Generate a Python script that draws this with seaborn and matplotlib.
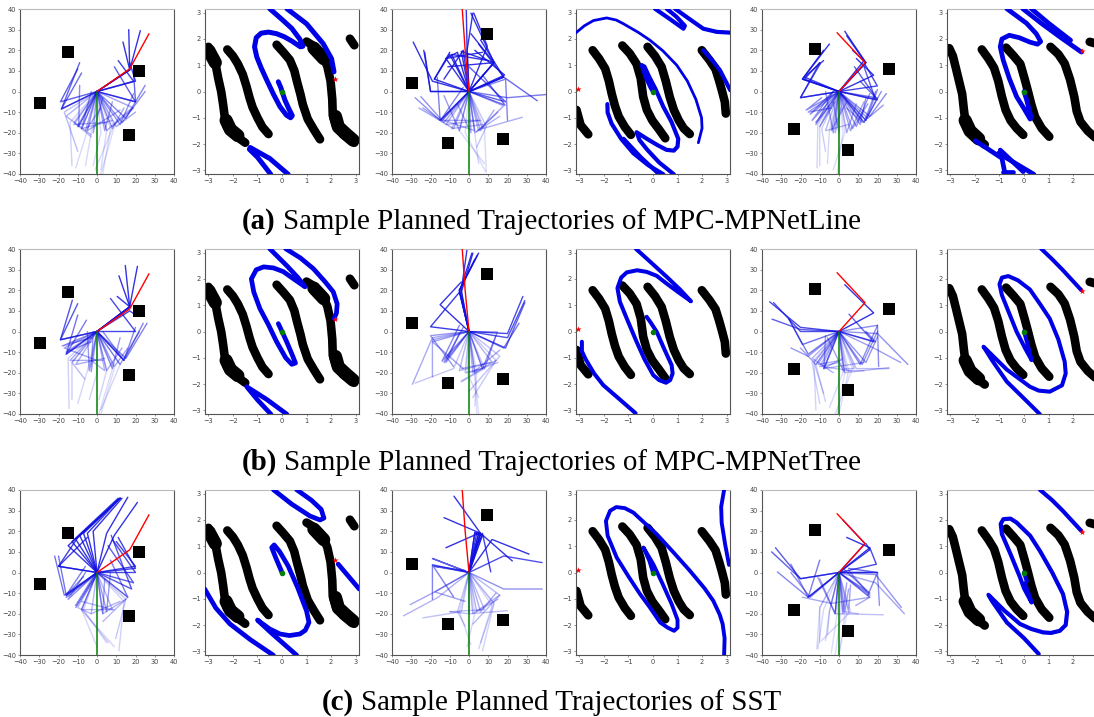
"""Sample planned trajectories: workspace trees and configuration space plots."""

import matplotlib
matplotlib.use("Agg")
import matplotlib.pyplot as plt
import seaborn as sns

W, H = 1094, 717

# -- obstacle centres for the three environments
squares_a = [(-29.6, -5.5), (-15, 19.2), (21.8, 10), (16.8, -21.3)]
squares_b = [(-29.4, 4), (-10.7, -25), (9.5, 28), (17.8, -23)]
squares_c = [(-12.6, 20.6), (25.8, 10.8), (-23.4, -18), (4.8, -28.3)]

# -- goal arm, elbow then tip
goal_a = [(0, 0), (17, 11), (27, 28)]
goal_b = [(0, 0), (-2, 20), (-3.5, 40)]
goal_c = [(0, 0), (13.5, 14), (-1, 28.5)]

# -- goal state in configuration space
star_a = (2.15, 0.48)
star_b = (-3.05, 0.08)
star_c = (2.38, 1.53)

# -- tree arms: elbow x, elbow y, tip x, tip y
tree_a1 = [
    (17, 10.5, 16.5, 30), (17, 10.5, 22.5, 29.5), (17, 10.5, 13.5, 24), (19, 5, 11, 15), (20, 5, 17, 14),
    (-18.5, -8.5, -9, 14), (-19, -5, -10, 11), (-18.5, -8.5, -8, 9), (-9.5, -17, -9, 3), (-8, -18, -3, 0),
    (-10, -17, 0, 0), (20, -5, 9, 12), (20, -5, 19, 9), (19, -8, 8, -17), (-17, -10, -10, -29),
    (-14, -15, -13, -36), (-5, -19, -11, -37), (-3, -20, -6, -36), (2, -20, -2, -36), (5, -19, 2, -38),
    (7, -18, 3, -40), (8, -18, -1, -38), (9, -17, 2, -40), (-12, -15, -3, -22), (-16, -12, -3, -21),
    (-12, -16, 5, -15), (-8, -18, 8, -14), (-5, -19, 12, -9), (5, -19, 18, -8), (10, -17, 20, -10),
    (13, -15, 25, 0), (15, -13, 25, 3), (12, -16, 19, -1), (8, -18, 14, -8), (-2, -20, 3, -3),
    (4, -19, 8, -5), (-6, -19, 2, -8),
]
tree_a3 = [
    (-20, 0, -23, 19), (-20, 0, -23.5, 20), (-19, 5, -29, 24), (-18, 6, -10, 19), (13, 14, 1, 38),
    (9.5, 22, 2.5, 38), (13, 14, 1, 28), (18, 7, 5, 23), (18, 7, 6, 25), (18.5, 8, 3, 20), (19, -5, 0, 12),
    (18.7, -6.6, 7, 8), (18, -7, 4, -19.5), (-15, -14, -16.5, 7), (-14.5, -13.5, -3, 2), (-10, 18, -18, 6),
    (-6, 19, -12, 16), (-3, 20, -13, 6), (-12, 16, 7, 19), (-9, 18, 10, 15), (-4, 19.5, 13, 14),
    (13, 14, -11, 12), (-1, 20, -1.4, 39.4), (-1, 20, 2, 38), (20, -3, 39.8, -1.5), (18, 7, 35.5, -4.5),
    (19, 6, 20, -14), (7, -18, 27.7, -12.5), (-14, -14, -25, -2.5), (-15, -14, -28, -3), (-13, -15, -24, -8),
    (-8, -18, -26, -8), (3, -19, -13, -14), (-14, -14, 5, -14), (-12, -16, 6, -14), (3, -20, 16, -12),
    (5, -19, 15, -10), (-5, -19, 8, -35), (3, -20, 5, -35), (-2, -20, 8.7, -39), (8, -18, 9, -39),
    (9, -17, 4, -27), (-9, -18, 7, -16), (6, -19, 13, -9), (1, -20, -6, -6), (-5, -19, -13, -2),
]
tree_a5 = [
    (14, 14, 3, 29.2), (13, 15, 4, 27), (14, 14, 7, 20), (-19, 6, -5, 23), (-19, 6, -8, 20), (-18, 6, -10, 14),
    (-20, -3, -10, 14), (-20, -3, -9.7, 13.5), (-18, 7, -8, 15), (19.9, 2.7, 13.3, 13.5), (19, -4, 13, 12),
    (20, -4, 8, 12), (18, 7.9, 9, 16), (19, -3, 11, 5), (-14, -14, -4, -1), (-12, -16, -3, 0), (-15, -11, -3, 0),
    (-3, -20, -7, 0), (0, -20, -3, -5), (6, -19, 13, -5), (9, -17, 16, -1), (14, -14, 20, -3), (13, -15, 19, 0),
    (14, -14, 20, 1), (-11, -16, -11.4, -37), (-9, -18, -7, -29), (-10, -17, -10, -36), (-5, -19, -6, -35),
    (3, -20, -3, -38), (2, -20, -1, -40), (15, -13, 23, -6.6), (16, -12, 24.6, -1), (13, -15, 22, 0),
    (-7, -19, 5, -16), (-16, -10, -4, -8), (-17, -9, -9, -3), (-10, -17, -2, -5), (-12, -15, -5, -7),
    (4, -20, 9, -6), (7, -18, 15, -6), (-4, -19, 4, -5), (-2, -20, 1, -8), (12, -15, 4, -8), (11, -16, 14, -3),
]
tree_b1 = [
    (17, 12, 14.7, 32), (17, 12, 21, 31.6), (17, 12, 11.4, 27), (17, 12, 10.5, 17), (17, 10, 20, 8),
    (20, 0, 7, 16), (-19, -4, -12.8, 15.2), (-19, -4, -10, 13.5), (-16, -11, -10, 8), (-16, -11, -5.5, 5.5),
    (-4, -19, -5, 0), (-3, -19.5, -2, 0), (14, -14, 3, 0), (14, -14, 20, 2), (8, -18, 12, -3), (9, -17, 16, -8),
    (14, -14, 24, 4), (15, -13, 26, 4), (12, -16, 22, 0), (-15, -13, -14.5, -37.3), (-13, -15, -13, -33),
    (-13, -15, -6.4, -23), (-5, -19, -10, -35), (0, -20, -4, -33), (5, -19, 1, -33), (8, -18, 1, -40),
    (9, -18, 2, -40), (12, -16, 2, -38), (-17, -8, 0, -14), (-14, -14, 3, -14), (-11, -16, 4, -13),
    (-16, -10, -3, -5), (-18, -7, -3, -3), (5, -19, 13, -8), (4, -19, -3, -14),
]
tree_b3 = [
    (-5, 20, 4.3, 37), (-5, 20, 3, 35), (-5, 20, 5, 38), (-4, 20, -1, 40), (-4, 19, 2, 38), (-5, 19, 1.5, 38),
    (-20, 2.3, -5, 19), (-15, 13, -4, 24), (-14, -14.4, -5, 3), (-13, -15, -3, 2), (-12, -15, -5, -1),
    (20, -1, 28, 17), (20, -3, 29, 15), (19, -8, 29, 14), (18, -8, 26, 4), (14.7, -0.2, 8, -18), (7, -18, 14, -2),
    (-19, -3, -29.4, -25.6), (-19, -4, -19, -22), (-19, -5, -3, -18), (-20, -2, -8, -17), (-8, -18, -28, -25),
    (-5, -19, 11, -15), (0, -20, 15, -15), (2, -20, 16, -9), (3, -20, 14, -14), (-2, -20, 7, -18),
    (3, -20, 4, -40), (3, -20, 5, -40), (-1, -20, 5, -32), (8, -18, -4, -24.4), (7, -18, -4, -24),
    (16, -12, 0, -29), (14, -14, 2, -32), (4, -20, 3, -36), (12, -15, -4, -18),
]
tree_b5 = [
    (18, 9, 3, 22.7), (18, -5, 5.2, 8.4), (19, -5, 14, 0), (-20, 2, -36, 14.4), (-20, 0, -34, 14), (-20, 1, -34.8, 6),
    (-19, -6.3, -26, 6), (-16, -12, -25, -8), (-16, -11, -26, 6), (-7.8, -18, -7, -2), (-7.8, -18, 13, -15),
    (2.6, -19.5, -6, -3), (12, -16, 20, 0), (14, -15, 20, -2.6), (11, -16, 20, 3), (20, 3, 20.6, -17),
    (20, -1, 35.8, -16), (18, -8, 32, -15), (9, -18, 26, -18), (3, -20, 26, -17.5), (4, -19, 13, -19),
    (-12, -16, -20, -8), (-13, -15, -12, -38), (-14, -15, -10, -35), (-12, -16, -7, -34), (-13, -15, -8, -30),
    (2, -20, -5, -37), (3, -20, -1, -40), (5, -19, 0, -40), (7, -18, -2, -40), (-14, -13, -3, -20),
    (-10, -17, 0, -15), (-11, -16, 1, -14), (-8, -18, 2, -13), (8, -18, 3, -18), (-9, -17, 6, -19),
]
tree_c1 = [
    (-11, 16, 12, 36), (-9, 18, 12, 36), (-7, 19, 12, 36), (-5, 19, 12, 36), (-2, 20, 13, 36), (5, 19, 16, 36.5),
    (9, 18, 21, 34), (-15, 13, 12, 36), (-13, 15, 11, 36), (-20, 3, -10, 17), (-20, 3, -5, 17), (18, -8, 7.4, 18),
    (19, -5, 5.7, 13), (20, 2, 11, 17), (20, 3, 10, 15), (20, 0, 8, 16), (16, -12, 7, 6), (-15, -13, -6, 0),
    (-16, -11, -6, 3), (-11, -16, 0, 1), (-11, -17, 1, 0), (5, -19, 7, 0), (3, -20, 4, -3), (-17, -11, -22, 8),
    (-16, -11, -20, 8), (-16, -11, -7, -2), (-16, -12, -1, -1), (-8, -18, 9, -18), (-10, -17, -3, -20),
    (16, -12, 3, -23.8), (15, -13, 9.7, -32), (14, -14, 11.4, -38), (-7, -18, 5, -34), (-8, -18, 9, -36),
    (-8, -18, 6, -34), (-8, -18, 0, -36), (8, -18, -8, -14), (3, -20, 15, -13), (-3, -20, 12, -14),
]
tree_c3 = [
    (6, 19, -7.8, 37), (6, 19, -13, 26.6), (5, 19, -12, 12), (7, 19, 11.3, 0.3), (12, 16, 31.2, 8.9),
    (6, 19, 22.5, 5.6), (18, 8, 38, 4.8), (18, -8, 38, -8), (4, 19, 5, 19), (3, 19.5, 6, 19), (5, 19, 7, 18),
    (3, 19, 6, 18), (7, 18, 3, 12), (-19, 3.7, -19, -13), (-19, 3.7, -8, -11.8), (-19, 6.8, -3, 1),
    (-18, 3, -2, 1), (-17.8, -9.4, -30.6, -15.6), (-17.8, -9.4, -2, -14), (-16, -12, -34, -21),
    (-4, -19, -24, -22), (0, -20, 20, -18.5), (0, -20, -10, -19), (8, -18, -10, -19), (16, -11, 2, -25),
    (12, -16, 6, -34), (13, -15, 7, -38), (13, -15, 5, -37), (-5, -19, 1, -35), (3, -20, -1, -36),
    (-6, -19, -2, -26), (2, -20, 16, -11), (4, -19, 15, -13), (6, -19, 14, -10),
]
tree_c5 = [
    (13.5, 14, 2, 25.5), (16, 12, 4, 17), (16, 11, 14, 14), (19.4, 4, 16, 12), (20, 0, 5, 2), (-20, -3, -35, 10),
    (-20, -3, -33, 12), (-16, -12, -32, 0.3), (-16, -12, -25, 4), (-15, -12, -25, 0), (-16, -12, -10, 6),
    (-2, -20, -11, -2.4), (-2, -20, -10, -3), (16, -10, 2, 2), (16, -11, 5, 1), (20, 0, 15, -11),
    (19, -1, 32.4, -17), (20, 0, 21, -16), (19, -5, 34, -20), (16, -12, 8.7, -16), (16, -12, -4, -15),
    (-4, -15, -19, -12), (-2, -20, 23, -20.5), (2, -19, 10, -20), (-10, -17, -11.5, -37), (-10, -17, -10, -34),
    (-8, -18, -11, -37), (-5, -19, -7, -33), (-1, -20, -4, -39), (1, -20, -2, -40), (3, -20, 0, -40),
    (4, -20, 0, -40), (-5, -19, -6, -30), (6, -19, -9, -33), (2, -20, 4, -5), (3, -19, 5, -8), (5, -19, 6, -6),
]

# -- configuration space obstacles, drawn with a fat line
bands_a = [
    [(-3.0, 1.7), (-2.85, 1.4), (-2.7, 1.0), (-2.6, 0.5), (-2.48, 0.0), (-2.4, -0.5), (-2.33, -1.0), (-2.25, -1.35),
     (-2.0, -1.6), (-1.75, -1.78), (-1.5, -1.95)],
    [(-2.23, 1.6), (-2.0, 1.35), (-1.8, 1.05), (-1.6, 0.65), (-1.45, 0.2), (-1.32, -0.25), (-1.2, -0.6), (-1.0, -1.0),
     (-0.8, -1.35), (-0.55, -1.62)],
    [(-0.22, 1.78), (0.05, 1.5), (0.32, 1.2), (0.5, 0.8), (0.62, 0.35), (0.75, -0.1), (0.85, -0.5), (1.05, -1.05),
     (1.3, -1.45), (1.55, -1.82)],
    [(1.0, 1.9), (1.35, 1.7), (1.65, 1.4), (1.85, 0.95), (1.98, 0.4), (2.05, -0.3), (2.07, -0.9), (2.2, -1.3),
     (2.5, -1.65), (2.95, -1.95)],
    [(2.77, 2.01), (2.95, 1.76)],
]
lumps_a = [
    [(-2.98, 1.55), (-2.72, 1.1)],
    [(-2.28, -1.1), (-2.1, -1.45), (-1.8, -1.68)],
    [(1.3, 1.65), (1.7, 1.25)],
    [(2.18, -0.95), (2.3, -1.35), (2.65, -1.65), (2.9, -1.85)],
]
bands_b = [
    [(-2.46, 1.57), (-2.2, 1.25), (-1.95, 0.87), (-1.8, 0.4), (-1.68, -0.1), (-1.55, -0.55), (-1.4, -0.95), (-1.15, -1.35),
     (-0.9, -1.65)],
    [(-1.25, 1.75), (-0.95, 1.45), (-0.67, 1.05), (-0.5, 0.5), (-0.4, -0.2), (-0.25, -0.7), (-0.03, -1.1), (0.25, -1.45),
     (0.5, -1.78)],
    [(-0.22, 1.7), (0.08, 1.35), (0.35, 0.94), (0.52, 0.4), (0.68, -0.2), (0.85, -0.7), (1.05, -1.1), (1.25, -1.4),
     (1.5, -1.62)],
    [(1.99, 1.57), (2.3, 1.2), (2.55, 0.85), (2.7, 0.4), (2.82, 0.0), (2.93, -0.4), (2.97, -0.84)],
    [(-3.12, -0.7), (-2.95, -1.28), (-2.64, -1.63)],
]
lumps_b = []
bands_c = [
    [(-3.05, 1.65), (-2.9, 1.35), (-2.78, 0.9), (-2.65, 0.4), (-2.52, -0.1), (-2.45, -0.7), (-2.38, -1.2), (-2.1, -1.65),
     (-1.6, -2.02)],
    [(-1.72, 1.6), (-1.45, 1.25), (-1.22, 0.9), (-1.05, 0.4), (-0.9, -0.2), (-0.75, -0.7), (-0.55, -1.1), (-0.3, -1.4),
     (-0.03, -1.65)],
    [(-0.73, 1.67), (-0.42, 1.35), (-0.15, 1.05), (0.02, 0.5), (0.15, 0.05), (0.3, -0.5), (0.45, -0.96), (0.72, -1.4),
     (1.03, -1.72)],
    [(1.08, 1.7), (1.4, 1.42), (1.66, 1.06), (1.88, 0.45), (2.05, -0.2), (2.15, -0.75), (2.3, -1.15), (2.6, -1.5),
     (2.9, -1.75), (3.2, -1.9)],
    [(2.68, 1.89), (2.95, 1.82), (2.95, 1.57)],
]
lumps_c = [[(-2.4, -1.1), (-2.2, -1.5), (-1.85, -1.8)]]

# -- configuration space paths
paths_a1 = [
    [(-0.15, 0.37), (-0.05, 0.15), (0.12, -0.33), (0.3, -0.7), (0.42, -0.92), (0.35, -1.0), (0.18, -0.9), (-0.08, -0.58),
     (-0.35, -0.1), (-0.62, 0.43), (-0.85, 0.9), (-1.03, 1.32), (-1.12, 1.7), (-1.05, 2.05), (-0.85, 2.22), (-0.55, 2.26),
     (-0.22, 2.2), (0.1, 2.08), (0.4, 1.92), (0.75, 1.7), (0.85, 1.72), (0.72, 2.0), (0.4, 2.4), (0.05, 2.7), (-0.5, 3.15)],
    [(0.2, 3.15), (1.0, 2.58), (1.68, 1.82), (2.02, 1.25), (2.12, 0.75)],
    [(-0.46, -3.15), (-1.0, -2.5), (-1.33, -2.2), (-1.3, -2.13), (-0.5, -2.55), (0.25, -3.15)],
]
paths_a2 = [
    [(-0.46, 1.0), (-0.35, 0.95), (-0.15, 0.55), (0.1, 0.1), (0.42, -0.58), (0.75, -1.15), (1.03, -1.8), (1.0, -2.1),
     (0.85, -2.25), (0.55, -2.22), (0.2, -2.05), (-0.25, -1.8), (-0.67, -1.55), (-0.55, -1.85), (-0.25, -2.2), (0.25, -2.7),
     (0.85, -3.15)],
    [(-0.46, 1.0), (-0.3, 0.55), (-0.1, 0.15), (0.0, 0.0)],
    [(-1.86, -0.48), (-1.85, -0.8), (-1.69, -1.22), (-1.3, -1.8), (-0.8, -2.35), (-0.2, -2.8), (0.42, -3.15)],
    [(-1.2, -1.8), (-0.5, -2.5), (0.25, -3.15)],
    [(0.08, 3.15), (0.7, 2.75), (1.24, 2.39), (1.3, 2.5), (0.95, 2.85), (0.56, 3.15)],
    [(0.9, 3.15), (1.5, 2.75), (2.05, 2.39), (2.6, 2.27), (3.15, 2.24)],
    [(2.05, 1.57), (2.45, 1.15), (2.73, 0.81), (3.15, 0.05)],
]
thin_a2 = [
    [(-3.15, 2.23), (-2.8, 2.5), (-2.43, 2.7), (-1.89, 2.8), (-1.5, 2.72), (-1.21, 2.58), (-0.6, 2.25), (-0.12, 1.95),
     (0.4, 1.55), (0.97, 1.0), (1.4, 0.4), (1.75, -0.3), (1.98, -1.0), (2.0, -1.4), (1.85, -1.95)],
]
paths_a3 = [
    [(0.0, 0.0), (0.11, -0.33), (0.3, -1.0), (0.25, -1.05), (0.0, -0.65), (-0.3, -0.2), (-0.6, 0.5), (-0.85, 1.2),
     (-0.97, 1.7), (-0.9, 2.0), (-0.6, 2.14), (-0.2, 2.05), (0.24, 1.88), (0.55, 1.8), (0.68, 1.9), (0.5, 2.2), (0.1, 2.6),
     (-0.7, 3.15)],
    [(-0.05, 3.15), (0.7, 2.6), (1.46, 2.08), (2.34, 1.5)],
    [(0.3, 3.15), (1.0, 2.6), (1.9, 1.95)],
    [(-1.99, -1.87), (-0.9, -2.54), (-0.77, -3.15)],
    [(-1.04, -2.35), (0.4, -3.15)],
    [(-0.97, -2.23), (-0.03, -3.05)],
    [(-0.85, -3.05), (-0.45, -3.05)],
]
paths_b1 = [
    [(-0.15, 0.3), (0.0, 0.0), (0.19, -0.39), (0.4, -0.85), (0.55, -1.2), (0.4, -1.25), (0.15, -1.0), (-0.22, -0.39),
     (-0.55, 0.25), (-0.9, 0.87), (-1.15, 1.5), (-1.25, 2.0), (-1.05, 2.35), (-0.75, 2.46), (-0.35, 2.42), (0.05, 2.28),
     (0.46, 2.01), (0.94, 1.7), (0.65, 2.05), (0.2, 2.5), (-0.5, 3.15)],
    [(0.15, 3.15), (0.75, 2.8), (1.28, 2.39), (1.75, 1.9), (2.09, 1.51), (2.25, 1.05), (2.22, 0.7), (2.12, 0.49)],
    [(-0.45, -3.15), (-1.0, -2.6), (-1.44, -2.1), (-0.6, -2.6), (0.2, -3.15)],
]
paths_b2 = [
    [(-0.26, 0.56), (-0.1, 0.35), (0.15, -0.01), (0.45, -0.65), (0.76, -1.28), (0.8, -1.6), (0.7, -1.85), (0.53, -1.95),
     (0.25, -1.85), (0.01, -1.66), (-0.35, -1.05), (-0.67, -0.39), (-1.05, 0.45), (-1.35, 1.13), (-1.45, 1.65), (-1.3, 2.05),
     (-1.07, 2.25), (-0.65, 2.33), (-0.26, 2.27), (0.15, 2.12), (0.56, 1.82), (1.1, 1.45), (1.55, 1.15), (1.1, 1.6),
     (0.56, 2.08), (-0.05, 2.6), (-0.7, 3.15)],
    [(-2.9, -0.39), (-2.9, -0.75), (-2.75, -1.05), (-2.4, -1.6), (-2.03, -2.04), (-1.4, -2.55), (-0.71, -3.11)],
]
paths_b3 = [
    [(0.0, 0.0), (0.15, -0.5), (0.31, -1.09), (0.05, -0.65), (-0.3, -0.01), (-0.65, 0.8), (-0.9, 1.38), (-1.0, 1.8),
     (-0.9, 2.05), (-0.64, 2.11), (-0.25, 1.95), (0.24, 1.6), (0.65, 1.05), (1.05, 0.49), (1.4, -0.3), (1.66, -1.15),
     (1.7, -1.6), (1.55, -2.05), (1.05, -2.29), (0.6, -2.25), (0.24, -2.1), (-0.7, -1.45), (-1.3, -0.9), (-1.65, -0.58),
     (-1.3, -1.1), (-0.7, -1.91), (0.0, -2.55), (0.65, -3.15)],
    [(0.7, 3.15), (1.15, 2.75), (1.59, 2.33), (2.34, 1.57)],
]
paths_c1 = [
    [(0.0, 0.0), (-0.25, 0.55), (-0.42, 0.95), (-0.32, 1.05), (-0.1, 0.8), (0.25, 0.25), (0.65, -0.6), (1.0, -1.46),
     (1.1, -1.9), (0.95, -2.2), (0.73, -2.34), (0.3, -2.4), (-0.08, -2.34), (-0.5, -2.15), (-1.0, -1.81), (-0.46, -2.28),
     (0.6, -3.15)],
    [(2.29, 0.32), (3.15, -0.63)],
    [(-3.15, -0.63), (-2.7, -1.35), (-2.12, -1.96), (-1.3, -2.55), (-0.35, -3.15)],
    [(-0.35, 3.15), (0.4, 2.6), (1.14, 2.15), (1.55, 2.0), (1.71, 2.07), (1.6, 2.4), (1.2, 2.75), (0.6, 3.15)],
]
paths_c2 = [
    [(0.0, 0.0), (-0.15, 0.45), (-0.39, 0.95), (-0.2, 0.65), (0.01, 0.32), (0.4, -0.45), (0.76, -1.2), (1.0, -1.8),
     (1.0, -2.1), (0.86, -2.22), (0.6, -2.1), (0.29, -1.9), (-0.15, -1.3), (-0.53, -0.82), (-1.0, -0.15), (-1.48, 0.57),
     (-1.85, 1.4), (-1.92, 1.96), (-1.75, 2.35), (-1.5, 2.49), (-1.15, 2.45), (-0.8, 2.28), (-0.3, 1.85), (0.15, 1.46),
     (0.85, 0.75), (1.51, 0.06), (2.1, -0.6), (2.46, -1.08), (2.72, -1.6), (2.84, -1.96), (2.92, -2.5), (2.9, -3.15)],
    [(2.9, 3.15), (2.78, 2.5), (2.8, 1.9), (2.94, 1.08), (3.1, 0.29)],
]
paths_c3 = [
    [(0.0, 0.0), (0.11, -0.32), (0.05, -0.45), (0.31, -1.14), (0.0, -0.6), (-0.16, -0.19), (-0.55, 0.7), (-0.9, 1.46),
     (-0.95, 1.85), (-0.84, 2.03), (-0.55, 2.05), (-0.3, 1.9), (0.25, 1.4), (0.65, 0.82), (1.15, 0.0), (1.59, -0.82),
     (1.76, -1.5), (1.7, -2.0), (1.46, -2.22), (1.1, -2.3), (0.78, -2.28), (0.3, -2.15), (-0.16, -1.96), (-0.8, -1.45),
     (-1.45, -0.85), (-1.31, -1.08), (-0.7, -1.9), (0.0, -2.5), (0.6, -3.1)],
    [(0.65, 3.15), (1.15, 2.75), (1.59, 2.34), (2.34, 1.58)],
]

# -- caption text
caption_marks = ["(a)", "(b)", "(c)"]
caption_texts = [
    "Sample Planned Trajectories of MPC-MPNetLine",
    "Sample Planned Trajectories of MPC-MPNetTree",
    "Sample Planned Trajectories of SST",
]

tree_ticks = [-40, -30, -20, -10, 0, 10, 20, 30, 40]
cspace_ticks = [-3, -2, -1, 0, 1, 2, 3]
clipped_ticks = [-3, -2, -1, 0, 1, 2]  # the 3 of the last column is off the page

# pixel layout
COL_LEFT = [20, 205, 392, 576, 762, 947]
ROW_TOP = [9, 249, 490]
BOX_W, BOX_H = 154, 165
CAPTION_BASE = [229, 470, 710]
CAPTION_FS = 20.9
CAPTION_GAP = 7
PATH_LW = [[3.6, 3.0, 3.4], [3.4, 2.9, 2.9], [3.4, 2.8, 3.0]]


def make_axes(fig, left, top):
    ax = fig.add_axes([left / W, 1 - (top + BOX_H) / H, BOX_W / W, BOX_H / H])
    for side in ax.spines.values():
        side.set_color("#555555")
        side.set_linewidth(0.8)
    ax.spines["top"].set_color("#bbbbbb")
    ax.tick_params(labelsize=4.8, length=1.5, width=0.4, pad=1.5, color="#444444", labelcolor="#444444")
    return ax


def draw_line(ax, pts, color, lw, alpha=1.0, zorder=2):
    xs = [p[0] for p in pts]
    ys = [p[1] for p in pts]
    sns.lineplot(x=xs, y=ys, sort=False, estimator=None, errorbar=None, color=color, lw=lw, alpha=alpha,
                 zorder=zorder, ax=ax, legend=False, solid_capstyle="round", solid_joinstyle="round")


def draw_tree(ax, arms, squares, goal):
    for ex, ey, tx, ty in arms:
        # arms further down the plot are faint
        fade = max(0.0, ((ey + ty) / 2 + 40) / 55)
        alpha = min(0.85, max(0.1, 0.06 + 0.85 * fade ** 1.4))
        draw_line(ax, [(0, 0), (ex, ey), (tx, ty)], "#1010e0", 1.0, alpha=alpha)
    sns.scatterplot(x=[s[0] for s in squares], y=[s[1] for s in squares], marker="s", s=85, color="black",
                    linewidth=0, zorder=3, ax=ax, legend=False)
    draw_line(ax, goal, "red", 1.0, zorder=4)
    draw_line(ax, [(0, 0), (0, -40)], "green", 1.1, zorder=4)
    ax.set_xlim(-40, 40)
    ax.set_ylim(-40, 40)
    ax.set_xticks(tree_ticks)
    ax.set_yticks(tree_ticks)


def draw_cspace(ax, bands, lumps, paths, star, lw, thin=(), xticks=cspace_ticks):
    for band in bands:
        draw_line(ax, band, "black", 6.2)
    for lump in lumps:
        draw_line(ax, lump, "black", 9.5)
    for path in paths:
        draw_line(ax, path, "#0000e6", lw, zorder=3)
    for path in thin:
        draw_line(ax, path, "#0000e6", 2.0, zorder=3)
    sns.scatterplot(x=[0], y=[0], marker="o", s=16, color="green", linewidth=0, zorder=5, ax=ax, legend=False)
    sns.scatterplot(x=[star[0]], y=[star[1]], marker="*", s=22, color="red", linewidth=0, zorder=5, ax=ax, legend=False)
    ax.set_xlim(-3.14, 3.14)
    ax.set_ylim(-3.14, 3.14)
    ax.set_xticks(xticks)
    ax.set_yticks(cspace_ticks)


def draw_caption(fig, mark, text, y):
    # bold label and plain text are two artists, centred together
    family = "Liberation Serif"
    renderer = fig.canvas.get_renderer()
    t1 = fig.text(0, 1 - y / H, mark, fontsize=CAPTION_FS, fontweight="bold", family=family, va="baseline", color="black")
    t2 = fig.text(0, 1 - y / H, text, fontsize=CAPTION_FS, family=family, va="baseline", color="black")
    w1 = t1.get_window_extent(renderer).width
    w2 = t2.get_window_extent(renderer).width
    start = 551.5 - (w1 + CAPTION_GAP + w2) / 2
    t1.set_x(start / W)
    t2.set_x((start + w1 + CAPTION_GAP) / W)


sns.set_style("ticks")
fig = plt.figure(figsize=(W / 100, H / 100), dpi=100)

trees = [[tree_a1, tree_a3, tree_a5], [tree_b1, tree_b3, tree_b5], [tree_c1, tree_c3, tree_c5]]
envs = [(squares_a, goal_a, bands_a, lumps_a, star_a),
        (squares_b, goal_b, bands_b, lumps_b, star_b),
        (squares_c, goal_c, bands_c, lumps_c, star_c)]
paths = [[paths_a1, paths_a2, paths_a3], [paths_b1, paths_b2, paths_b3], [paths_c1, paths_c2, paths_c3]]

for r, top in enumerate(ROW_TOP):
    for e, env in enumerate(envs):
        squares, goal, bands, lumps, star = env
        draw_tree(make_axes(fig, COL_LEFT[2 * e], top), trees[r][e], squares, goal)
        thin = thin_a2 if (r, e) == (0, 1) else ()
        xticks = clipped_ticks if e == 2 else cspace_ticks
        draw_cspace(make_axes(fig, COL_LEFT[2 * e + 1], top), bands, lumps, paths[r][e], star, PATH_LW[r][e], thin, xticks)

for mark, text, y in zip(caption_marks, caption_texts, CAPTION_BASE):
    draw_caption(fig, mark, text, y)

fig.savefig("out.png", dpi=100)
